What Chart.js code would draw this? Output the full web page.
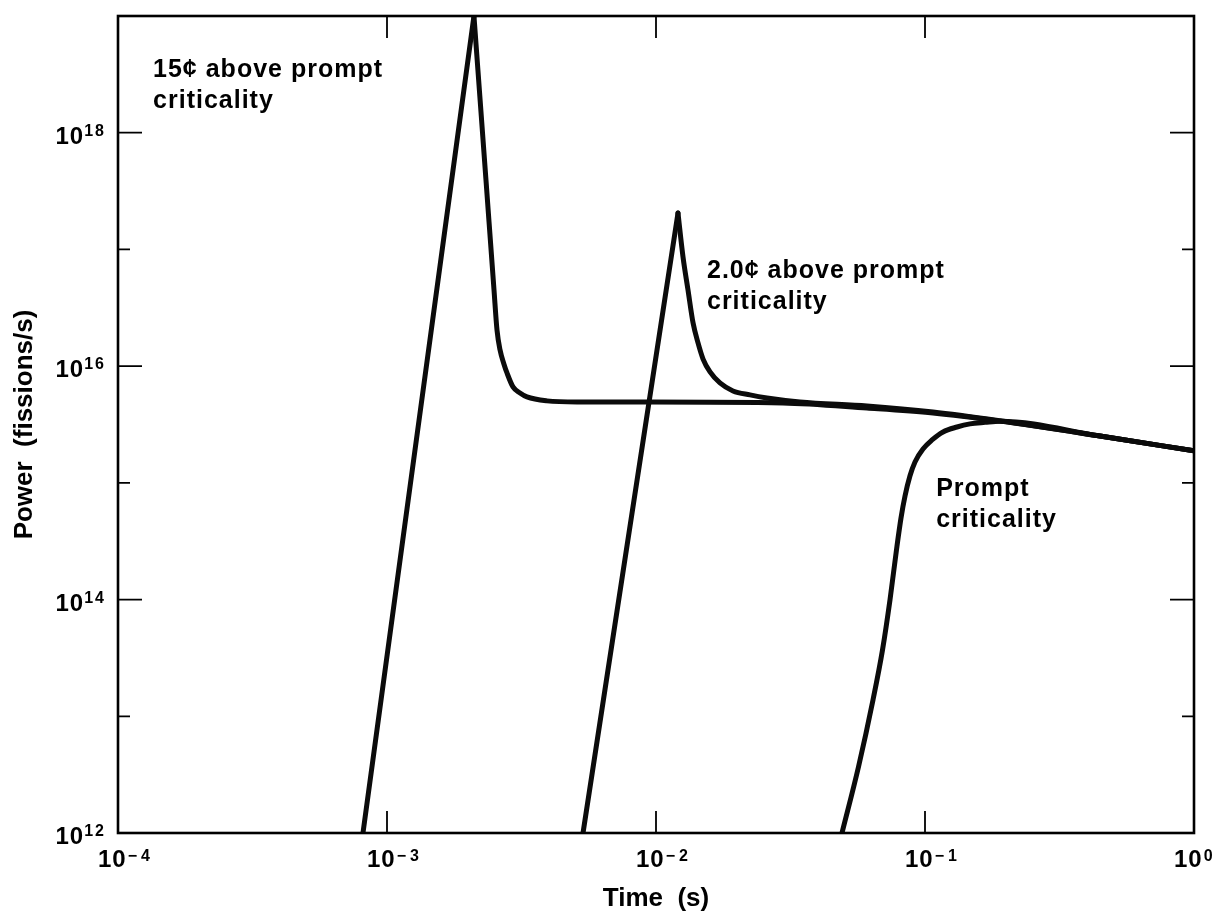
<!DOCTYPE html>
<html>
<head>
<meta charset="utf-8">
<title>Power excursions above prompt criticality</title>
<script src="https://cdn.jsdelivr.net/npm/chart.js@4.4.1/dist/chart.umd.min.js"></script>
<style>
    html, body { margin: 0; padding: 0; background: #fff; }
    #wrap { width: 1223px; height: 914px; }
</style>
</head>
<body>
<div id="wrap"><canvas id="powerChart"></canvas></div>
<script>
// Values: time in s, power in fissions/s
// (index 1 of the two excursion curves is the peak)
const time15 = [8.14e-4, 2.105e-3, 2.333e-3, 2.499e-3, 2.564e-3, 2.631e-3, 2.722e-3, 2.793e-3, 2.94e-3, 3.122e-3, 3.314e-3, 3.933e-3, 5.085e-3, 9.5e-3, 2.965e-2, 6.087e-2, 0.1071, 0.1901, 0.4473, 1.0];
const power15 = [1e12, 1e19, 3.94e17, 4.5e16, 2.04e16, 1.38e16, 1.04e16, 8.74e15, 6.64e15, 5.89e15, 5.45e15, 5.04e15, 4.93e15, 4.93e15, 4.84e15, 4.38e15, 3.97e15, 3.38e15, 2.52e15, 1.88e15];

const time2 = [5.354e-3, 1.207e-2, 1.26e-2, 1.315e-2, 1.373e-2, 1.433e-2, 1.496e-2, 1.588e-2, 1.729e-2, 1.933e-2, 2.236e-2, 2.586e-2, 3.429e-2, 6.087e-2, 0.1071, 0.1901, 0.4473, 1.0];
const power2 = [1e12, 2.05e17, 8.63e16, 4.5e16, 2.35e16, 1.58e16, 1.15e16, 8.92e15, 7.18e15, 6.13e15, 5.67e15, 5.34e15, 4.93e15, 4.56e15, 4.05e15, 3.4e15, 2.52e15, 1.88e15];

const timePrompt = [4.913e-2, 5.658e-2, 6.407e-2, 6.95e-2, 7.413e-2, 7.833e-2, 8.143e-2, 8.428e-2, 8.795e-2, 9.18e-2, 9.83e-2, 0.1062, 0.1167, 0.1315, 0.147, 0.1671, 0.1901, 0.4473, 1.0];
const powerPrompt = [1e12, 3.68e12, 1.38e13, 3.7e13, 1e14, 2.66e14, 5.0e14, 7.72e14, 1.15e15, 1.51e15, 1.95e15, 2.33e15, 2.73e15, 3.01e15, 3.2e15, 3.3e15, 3.38e15, 2.52e15, 1.88e15];

// Axis decades
const xTickExps = [-4, -3, -2, -1, 0];
const yTickExps = [12, 13, 14, 15, 16, 17, 18, 19];
const yLabelExps = [12, 14, 16, 18];

// Curve labels, anchored at the left end of the first line
const noteLines = [
    ['15¢ above prompt', 'criticality'],
    ['2.0¢ above prompt', 'criticality'],
    ['Prompt', 'criticality']
];
const noteTime = [1.35e-4, 1.547e-2, 0.110];
const notePower = [3.0e18, 5.7e16, 7.7e14];

const FONT = '"Liberation Sans", Arial, Helvetica, sans-serif';
const INK = '#0b0b0b';

function toPoints(xs, ys) {
    return xs.map((x, i) => ({ x: x, y: ys[i] }));
}

// straight exponential rise (first point to peak)
function riseLine(xs, ys) {
    return {
        data: toPoints(xs.slice(0, 2), ys.slice(0, 2)),
        showLine: true,
        borderColor: INK,
        borderWidth: 5,
        borderCapStyle: 'round',
        pointRadius: 0,
        tension: 0
    };
}

// smooth part of a curve
function smoothLine(xs, ys) {
    return {
        data: toPoints(xs, ys),
        showLine: true,
        borderColor: INK,
        borderWidth: 5,
        borderJoinStyle: 'round',
        borderCapStyle: 'round',
        pointRadius: 0,
        cubicInterpolationMode: 'monotone'
    };
}

/**
 * Frame, inward ticks, 10^n labels and curve labels
 */
const figureDecor = {
    id: 'figureDecor',
    afterDraw(chart) {
        const { ctx, chartArea: a, scales: { x, y } } = chart;
        ctx.save();
        ctx.strokeStyle = '#000';
        ctx.fillStyle = '#000';

        // tick marks pointing into the plot
        ctx.lineWidth = 1.8;
        ctx.beginPath();
        yTickExps.forEach(e => {
            if (e === 12 || e === 19) return;
            const py = y.getPixelForValue(Math.pow(10, e));
            const len = e % 2 === 0 ? 24 : 12;
            ctx.moveTo(a.left, py); ctx.lineTo(a.left + len, py);
            ctx.moveTo(a.right, py); ctx.lineTo(a.right - len, py);
        });
        xTickExps.forEach(e => {
            if (e === -4 || e === 0) return;
            const px = x.getPixelForValue(Math.pow(10, e));
            ctx.moveTo(px, a.bottom); ctx.lineTo(px, a.bottom - 22);
            ctx.moveTo(px, a.top); ctx.lineTo(px, a.top + 22);
        });
        ctx.stroke();

        // frame
        ctx.lineWidth = 2.6;
        ctx.strokeRect(a.left, a.top, a.right - a.left, a.bottom - a.top);

        ctx.textBaseline = 'alphabetic';
        ctx.textAlign = 'left';

        // y tick labels: right aligned against the axis
        yLabelExps.forEach(e => {
            const py = y.getPixelForValue(Math.pow(10, e));
            const sup = String(e);
            ctx.font = 'bold 16px ' + FONT;
            ctx.letterSpacing = '2px';
            const supW = ctx.measureText(sup).width;
            ctx.font = 'bold 24px ' + FONT;
            ctx.letterSpacing = '1px';
            const baseW = ctx.measureText('10').width;
            const end = a.left - 12;
            ctx.fillText('10', end - supW - baseW, py + 11);
            ctx.font = 'bold 16px ' + FONT;
            ctx.letterSpacing = '2px';
            ctx.fillText(sup, end - supW, py + 3);
        });

        // x tick labels
        xTickExps.forEach(e => {
            const px = x.getPixelForValue(Math.pow(10, e));
            ctx.font = 'bold 24px ' + FONT;
            ctx.letterSpacing = '1px';
            const baseX = px - 20;
            ctx.fillText('10', baseX, a.bottom + 34);
            const baseW = ctx.measureText('10').width;
            ctx.font = 'bold 16px ' + FONT;
            ctx.letterSpacing = '4px';
            const sup = e < 0 ? '\u2212' + Math.abs(e) : String(e);
            ctx.fillText(sup, baseX + baseW + 1, a.bottom + 28);
        });

        // curve labels
        ctx.font = 'bold 25px ' + FONT;
        ctx.letterSpacing = '1px';
        noteLines.forEach((lines, i) => {
            const px = x.getPixelForValue(noteTime[i]);
            const py = y.getPixelForValue(notePower[i]);
            lines.forEach((txt, j) => ctx.fillText(txt, px, py + j * 31));
        });
        ctx.letterSpacing = '0px';
        ctx.restore();
    }
};

Chart.defaults.color = '#000';
Chart.defaults.font.family = FONT;

new Chart(document.getElementById('powerChart'), {
    type: 'scatter',
    data: {
        datasets: [
            riseLine(time15, power15),
            smoothLine(time15.slice(1), power15.slice(1)),
            riseLine(time2, power2),
            smoothLine(time2.slice(1), power2.slice(1)),
            smoothLine(timePrompt, powerPrompt)
        ]
    },
    options: {
        responsive: true,
        maintainAspectRatio: false,
        animation: false,
        layout: { padding: { top: 16, right: 29, left: 0, bottom: 0 } },
        plugins: {
            legend: { display: false },
            tooltip: { enabled: false }
        },
        scales: {
            x: {
                type: 'logarithmic',
                position: 'bottom',
                min: 1e-4,
                max: 1,
                grid: { display: false },
                border: { display: false },
                ticks: { display: false },
                title: {
                    display: true,
                    text: 'Time  (s)',
                    color: '#000',
                    font: { size: 26, weight: 'bold' },
                    padding: { top: 0, bottom: 0 }
                },
                afterFit(scale) { scale.height = 81; }
            },
            y: {
                type: 'logarithmic',
                position: 'left',
                min: 1e12,
                max: 1e19,
                grid: { display: false },
                border: { display: false },
                ticks: { display: false },
                title: {
                    display: true,
                    text: 'Power  (fissions/s)',
                    color: '#000',
                    font: { size: 26, weight: 'bold' },
                    padding: { top: 9, bottom: 0 }
                },
                afterFit(scale) { scale.width = 118; }
            }
        }
    },
    plugins: [figureDecor]
});
</script>
</body>
</html>
